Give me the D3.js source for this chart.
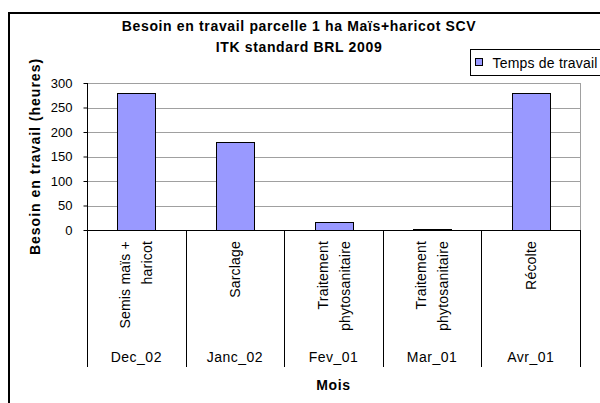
<!DOCTYPE html>
<html>
<head>
<meta charset="utf-8">
<script src="https://cdn.jsdelivr.net/npm/d3@7"></script>
<style>
  body { margin: 0; background: #fff; }
  svg text { font-family: "Liberation Sans", Arial, sans-serif; fill: #000; }
</style>
</head>
<body>
<div class="chart"></div>
<script>
// data
var months = ["Dec_02", "Janc_02", "Fev_01", "Mar_01", "Avr_01"];
var tasks = [["Semis maïs +", "haricot"], ["Sarclage"], ["Traitement", "phytosanitaire"], ["Traitement", "phytosanitaire"], ["Récolte"]];
var hours = [280, 180, 16, 2, 280];
var yTicks = [0, 50, 100, 150, 200, 250, 300];

var svgWidth = 600, svgHeight = 403;
var plot = { left: 87, right: 580, top: 83, bottom: 230 };
var catBottom = 367;

var svg = d3.select(".chart").append("svg")
  .attr("width", svgWidth)
  .attr("height", svgHeight);

// outer chart frame (runs past the right and bottom edges)
svg.append("rect")
  .attr("x", 9).attr("y", 13)
  .attr("width", 700).attr("height", 500)
  .attr("fill", "#fff")
  .attr("stroke", "#000")
  .attr("stroke-width", 2);

var xScale = d3.scaleBand()
  .domain(months)
  .range([plot.left, plot.right])
  .paddingInner(0)
  .paddingOuter(0);

var yScale = d3.scaleLinear()
  .domain([0, 300])
  .range([plot.bottom, plot.top]);

// gridlines
svg.append("g").selectAll("line")
  .data(yTicks.filter(d => d > 0))
  .enter().append("line")
  .attr("x1", plot.left).attr("x2", plot.right)
  .attr("y1", d => Math.round(yScale(d)) + 0.5)
  .attr("y2", d => Math.round(yScale(d)) + 0.5)
  .attr("stroke", "#a0a0a0");

// right border of plot area
svg.append("line")
  .attr("x1", plot.right + 0.5).attr("x2", plot.right + 0.5)
  .attr("y1", plot.top).attr("y2", plot.bottom)
  .attr("stroke", "#a0a0a0");

// bars
var band = xScale.bandwidth();
var barW = 38;
svg.append("g").selectAll("rect")
  .data(hours)
  .enter().append("rect")
  .attr("x", (d, i) => Math.round(xScale(months[i]) + (band - barW) / 2) + 0.5)
  .attr("y", d => Math.round(yScale(d)) + 0.5)
  .attr("width", barW)
  .attr("height", d => Math.max(0, Math.round(yScale(0)) - Math.round(yScale(d))))
  .attr("fill", "#9999ff")
  .attr("stroke", "#000")
  .attr("stroke-width", 1);

// y axis
var yAxis = d3.axisLeft(yScale).tickValues(yTicks).tickSize(4).tickPadding(11);
var yG = svg.append("g")
  .attr("transform", `translate(${plot.left + 0.5},0)`)
  .call(yAxis);
yG.select(".domain").remove();
yG.selectAll("line").attr("stroke", "#000");
yG.selectAll("text")
  .style("font-family", "Liberation Sans, Arial, sans-serif")
  .style("font-size", "13px")
  .attr("fill", "#000");

// left axis line and category dividers
svg.append("g").selectAll("line")
  .data(d3.range(months.length + 1))
  .enter().append("line")
  .attr("x1", i => Math.round(plot.left + i * band) + 0.5)
  .attr("x2", i => Math.round(plot.left + i * band) + 0.5)
  .attr("y1", i => (i === 0 ? plot.top : plot.bottom))
  .attr("y2", catBottom)
  .attr("stroke", "#000");

// zero line
svg.append("line")
  .attr("x1", plot.left).attr("x2", plot.right + 1)
  .attr("y1", Math.round(yScale(0)) + 0.5)
  .attr("y2", Math.round(yScale(0)) + 0.5)
  .attr("stroke", "#000");

// rotated task labels
var taskG = svg.append("g").selectAll("g")
  .data(tasks)
  .enter().append("g")
  .attr("transform", (d, i) => `translate(${xScale(months[i]) + band / 2},241) rotate(-90)`);

taskG.each(function(lines) {
  var g = d3.select(this);
  var n = lines.length;
  lines.forEach(function(t, j) {
    g.append("text")
      .attr("x", 0)
      .attr("y", (j - (n - 1) / 2) * 22)
      .attr("text-anchor", "end")
      .attr("dominant-baseline", "central")
      .style("font-size", "14px")
      .style("letter-spacing", "0.2px")
      .text(t);
  });
});

// month labels
svg.append("g").selectAll("text")
  .data(months)
  .enter().append("text")
  .attr("x", d => xScale(d) + band / 2)
  .attr("y", 362)
  .attr("text-anchor", "middle")
  .style("font-size", "14px")
  .style("letter-spacing", "0.5px")
  .text(d => d);

// axis titles
svg.append("text")
  .attr("x", (plot.left + plot.right) / 2)
  .attr("y", 390)
  .attr("text-anchor", "middle")
  .style("font-size", "14px")
  .style("font-weight", "bold")
  .style("letter-spacing", "0.6px")
  .text("Mois");

svg.append("text")
  .attr("transform", `translate(35,${(plot.top + plot.bottom) / 2}) rotate(-90)`)
  .attr("text-anchor", "middle")
  .attr("dominant-baseline", "central")
  .style("font-size", "14px")
  .style("font-weight", "bold")
  .style("letter-spacing", "1px")
  .text("Besoin en travail (heures)");

// chart title
var title = ["Besoin en travail parcelle 1 ha Maïs+haricot SCV", "ITK standard BRL 2009"];
svg.append("g").selectAll("text")
  .data(title)
  .enter().append("text")
  .attr("x", 299)
  .attr("y", (d, i) => 31 + i * 21)
  .attr("text-anchor", "middle")
  .style("font-size", "14px")
  .style("font-weight", "bold")
  .style("letter-spacing", "0.65px")
  .text(d => d);

// legend
var legend = svg.append("g").attr("transform", "translate(470.5,49.5)");
legend.append("rect")
  .attr("width", 200).attr("height", 26)
  .attr("fill", "#fff")
  .attr("stroke", "#000");
legend.append("rect")
  .attr("x", 5).attr("y", 9)
  .attr("width", 7).attr("height", 7)
  .attr("fill", "#9999ff")
  .attr("stroke", "#000");
legend.append("text")
  .attr("x", 22).attr("y", 18)
  .style("font-size", "14px")
  .style("letter-spacing", "0.2px")
  .text("Temps de travail");
</script>
</body>
</html>
